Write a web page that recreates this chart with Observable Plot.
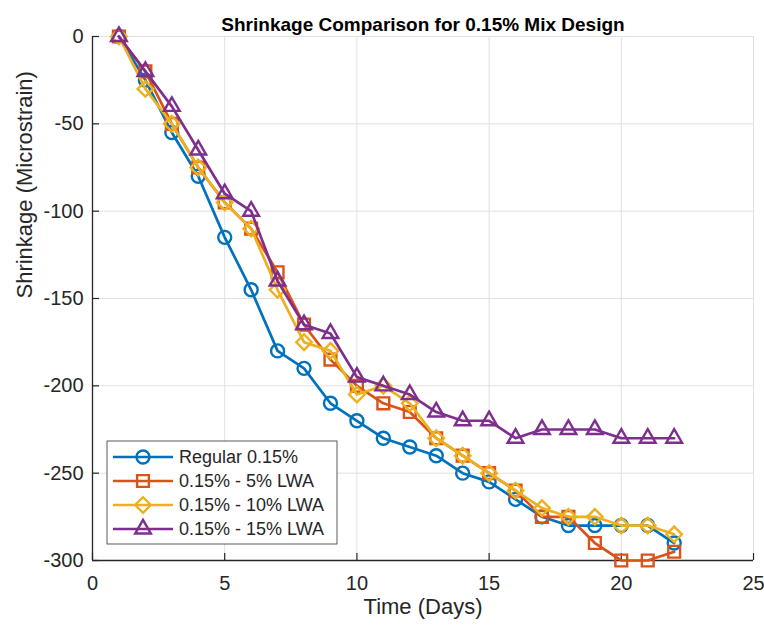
<!DOCTYPE html>
<html>
<head>
<meta charset="utf-8">
<script src="https://cdn.jsdelivr.net/npm/d3@7"></script>
<script src="https://cdn.jsdelivr.net/npm/@observablehq/plot@0.6"></script>
<style>
  html, body { margin: 0; padding: 0; background: #ffffff; }
  #chart { width: 764px; height: 626px; }
</style>
</head>
<body>
<div id="chart"></div>
<script>
// Shrinkage readings (microstrain) per day of curing
const days = [1, 2, 3, 4, 5, 6, 7, 8, 9, 10, 11, 12, 13, 14, 15, 16, 17, 18, 19, 20, 21, 22];
const regular  = [0, -25, -55, -80, -115, -145, -180, -190, -210, -220, -230, -235, -240, -250, -255, -265, -275, -280, -280, -280, -280, -290];
const lwa5     = [0, -20, -50, -75, -95, -110, -135, -165, -185, -200, -210, -215, -230, -240, -250, -260, -275, -275, -290, -300, -300, -295];
const lwa10    = [0, -30, -50, -75, -95, -110, -145, -175, -180, -205, -200, -210, -230, -240, -250, -260, -270, -275, -275, -280, -280, -285];
const lwa15    = [0, -20, -40, -65, -90, -100, -140, -165, -170, -195, -200, -205, -215, -220, -220, -230, -225, -225, -225, -230, -230, -230];

const seriesNames = ["Regular 0.15%", "0.15% - 5% LWA", "0.15% - 10% LWA", "0.15% - 15% LWA"];
const seriesValues = [regular, lwa5, lwa10, lwa15];
const colors = ["#0072BD", "#D95319", "#EDB120", "#7E2F8E"];
const symbols = [d3.symbolCircle, d3.symbolSquare2, d3.symbolDiamond2, d3.symbolTriangle2];
const symbolR = [6.5, 7.5, 7, 7.5];

const xTicks = [0, 5, 10, 15, 20, 25];
const yTicks = [0, -50, -100, -150, -200, -250, -300];
const xDomain = [0, 25];
const yDomain = [-300, 0];

const titleText = "Shrinkage Comparison for 0.15% Mix Design";
const xLabel = "Time (Days)";
const yLabel = "Shrinkage (Microstrain)";

const rows = seriesNames.map((name, i) =>
  days.map((d, j) => ({series: name, day: d, value: seriesValues[i][j]}))
);

const W = 764, H = 626;
const M = {top: 36, right: 11, bottom: 66, left: 92};
const frameW = W - M.left - M.right;
const frameH = H - M.top - M.bottom;
const axisColor = "#262626";
const gridColor = "#e0e0e0";
const font = "'Liberation Sans', Arial, Helvetica, sans-serif";
const plainNumber = d => String(d); // ASCII hyphen for negatives

const marks = [
  Plot.gridX(xTicks, {stroke: gridColor, strokeOpacity: 1, strokeWidth: 1}),
  Plot.gridY(yTicks, {stroke: gridColor, strokeOpacity: 1, strokeWidth: 1}),
  Plot.axisX({ticks: xTicks, tickFormat: plainNumber, tickSize: 0, tickPadding: 15, label: null, fontSize: 20, fill: axisColor}),
  Plot.axisY({ticks: yTicks, tickFormat: plainNumber, tickSize: 0, tickPadding: 9, label: null, fontSize: 20, fill: axisColor}),
  // inward tick marks
  Plot.tickX(xTicks, {x: d => d, stroke: axisColor, strokeWidth: 1.2, insetTop: frameH - 7}),
  Plot.tickY(yTicks, {y: d => d, stroke: axisColor, strokeWidth: 1.2, insetRight: frameW - 7}),
  Plot.ruleX([xDomain[0]], {stroke: axisColor, strokeWidth: 1.3}),
  Plot.ruleY([yDomain[0]], {stroke: axisColor, strokeWidth: 1.3}),
];

rows.forEach((data, i) => {
  marks.push(Plot.line(data, {x: "day", y: "value", stroke: colors[i], strokeWidth: 2.7}));
  marks.push(Plot.dot(data, {x: "day", y: "value", stroke: colors[i], fill: "none", strokeWidth: 2.4, r: symbolR[i], symbol: symbols[i]}));
});

marks.push(
  Plot.text([titleText], {frameAnchor: "top", dy: -19, fontSize: 19, fontWeight: "bold", fill: "#000000"}),
  Plot.text([xLabel], {frameAnchor: "bottom", dy: 53, fontSize: 22, fill: axisColor}),
  Plot.text([yLabel], {frameAnchor: "left", dx: -68, rotate: -90, fontSize: 22, fill: axisColor})
);

const svg = Plot.plot({
  width: W,
  height: H,
  marginTop: M.top,
  marginRight: M.right,
  marginBottom: M.bottom,
  marginLeft: M.left,
  x: {domain: xDomain},
  y: {domain: yDomain},
  style: {fontFamily: font, fontSize: "18px", color: axisColor, background: "#ffffff", overflow: "visible"},
  marks
});

// Legend box in the lower-left corner of the plot area
const legend = d3.select(svg).append("g")
  .attr("font-family", font)
  .style("font-size", "18px")
  .attr("text-anchor", "start");
const lx = M.left + 15, ly = 441, lw = 230, lh = 103, rowH = 24;
legend.append("rect")
  .attr("x", lx).attr("y", ly).attr("width", lw).attr("height", lh)
  .attr("fill", "#ffffff").attr("stroke", "#333333").attr("stroke-width", 0.8);
seriesNames.forEach((name, i) => {
  const cy = ly + 16 + i * rowH;
  const g = legend.append("g");
  g.append("line").attr("x1", lx + 6).attr("x2", lx + 66).attr("y1", cy).attr("y2", cy)
    .attr("stroke", colors[i]).attr("stroke-width", 2.7);
  g.append("path")
    .attr("transform", `translate(${lx + 36},${cy})`)
    .attr("d", d3.symbol(symbols[i], Math.PI * symbolR[i] * symbolR[i])())
    .attr("fill", "none").attr("stroke", colors[i]).attr("stroke-width", 2.4);
  g.append("text").attr("x", lx + 72).attr("y", cy).attr("dy", "0.35em")
    .attr("text-anchor", "start")
    .attr("fill", axisColor).text(name);
});

document.getElementById("chart").appendChild(svg);
</script>
</body>
</html>
